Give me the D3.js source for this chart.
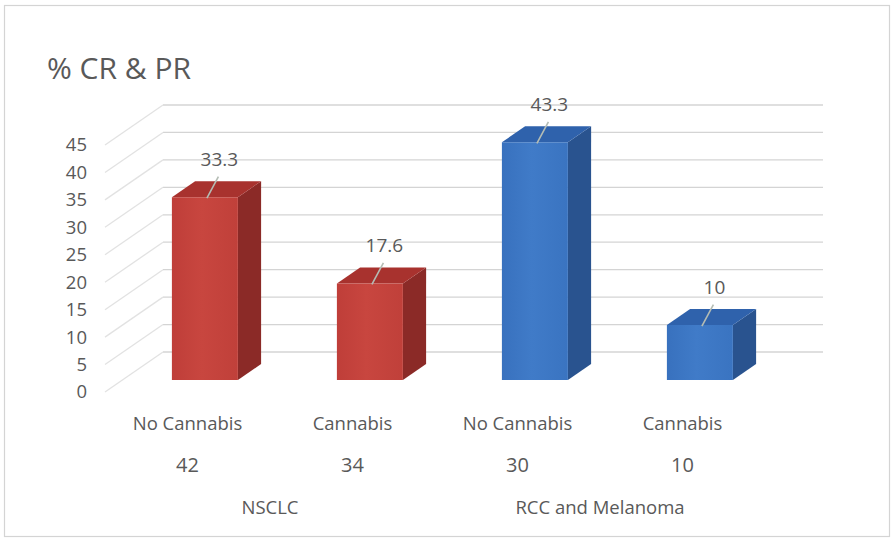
<!DOCTYPE html>
<html>
<head>
<meta charset="utf-8">
<script src="https://cdn.jsdelivr.net/npm/d3@7"></script>
<style>
  html, body { margin: 0; padding: 0; background: #ffffff; }
  svg { display: block; }
  text { fill: #595959; font-family: "Open Sans", sans-serif; }
</style>
</head>
<body>
<svg id="chart" width="894" height="542"></svg>
<script>
// ---- data ----
const categories = ["No Cannabis", "Cannabis", "No Cannabis", "Cannabis"];
const patientCounts = ["42", "34", "30", "10"];
const groupNames = ["NSCLC", "RCC and Melanoma"];
const groupOfCategory = [0, 0, 1, 1];
const responseRates = [33.3, 17.6, 43.3, 10];
const yTicks = [0, 5, 10, 15, 20, 25, 30, 35, 40, 45];
const titleText = "% CR & PR";

// face shades per group: front, top, side
const groupShades = [
  { front: ["#bf3e39", "#c8463f", "#c0403a"], top: "#a8322e", side: "#8b2a27" },
  { front: ["#3871be", "#407bc8", "#3a74c1"], top: "#2f62ac", side: "#29538f" }
];

const svg = d3.select("#chart");

// outer frame
svg.append("rect")
  .attr("x", 4.5).attr("y", 5.5)
  .attr("width", 885).attr("height", 531)
  .attr("fill", "#ffffff")
  .attr("stroke", "#d4d4d4").attr("stroke-width", 1.2);

// ---- scales (front plane) ----
const x = d3.scaleBand()
  .domain(d3.range(categories.length))
  .range([105, 765])
  .paddingInner(0.6)
  .paddingOuter(0.3);
const y = d3.scaleLinear().domain([0, 45]).range([392, 145]);

// depth: 0 = front edge of floor, 1 = back wall
const depthX = d3.scaleLinear().domain([0, 1]).range([0, 58]);
const depthY = d3.scaleLinear().domain([0, 1]).range([0, -40]);
const proj = (px, v, z) => [px + depthX(z), y(v) + depthY(z)];
const barZ0 = 0.3, barZ1 = 0.7;

// gradients for front faces
const defs = svg.append("defs");
groupShades.forEach((g, i) => {
  const grad = defs.append("linearGradient")
    .attr("id", "front" + i)
    .attr("x1", "0%").attr("x2", "100%").attr("y1", "0%").attr("y2", "0%");
  grad.append("stop").attr("offset", "0%").attr("stop-color", g.front[0]);
  grad.append("stop").attr("offset", "45%").attr("stop-color", g.front[1]);
  grad.append("stop").attr("offset", "100%").attr("stop-color", g.front[2]);
});

// ---- walls ----
const [xMin, xMax] = x.range();

// back wall gridlines
svg.append("g").selectAll("line")
  .data(yTicks).join("line")
  .attr("x1", d => proj(xMin, d, 1)[0])
  .attr("y1", d => proj(xMin, d, 1)[1])
  .attr("x2", d => proj(xMax, d, 1)[0])
  .attr("y2", d => proj(xMax, d, 1)[1])
  .attr("stroke", "#d4d4d4").attr("stroke-width", 1.3);

// side wall receding lines
svg.append("g").selectAll("line")
  .data(yTicks).join("line")
  .attr("x1", d => proj(xMin, d, 0)[0])
  .attr("y1", d => proj(xMin, d, 0)[1])
  .attr("x2", d => proj(xMin, d, 1)[0])
  .attr("y2", d => proj(xMin, d, 1)[1])
  .attr("stroke", "#e2e2e2").attr("stroke-width", 1.3);

// ---- y axis labels ----
const yAxis = svg.append("g")
  .attr("transform", "translate(87,0)")
  .call(d3.axisLeft(y).tickValues(yTicks).tickSize(0).tickPadding(0).tickFormat(d3.format("d")));
yAxis.select(".domain").remove();
yAxis.selectAll("text")
  .attr("font-family", "'Open Sans', sans-serif")
  .attr("font-size", 18.5)
  .attr("fill", "#595959");

// ---- bars ----
const line = d3.line();
const bars = svg.append("g").selectAll("g")
  .data(responseRates.map((v, i) => ({ v, i, g: groupOfCategory[i] })))
  .join("g");

bars.append("path") // side face
  .attr("d", d => {
    const x1 = x(d.i) + x.bandwidth();
    return line([proj(x1, 0, barZ0), proj(x1, 0, barZ1), proj(x1, d.v, barZ1), proj(x1, d.v, barZ0)]) + "Z";
  })
  .attr("fill", d => groupShades[d.g].side);

bars.append("path") // top face
  .attr("d", d => {
    const x0 = x(d.i), x1 = x0 + x.bandwidth();
    return line([proj(x0, d.v, barZ0), proj(x1, d.v, barZ0), proj(x1, d.v, barZ1), proj(x0, d.v, barZ1)]) + "Z";
  })
  .attr("fill", d => groupShades[d.g].top);

bars.append("path") // front face
  .attr("d", d => {
    const x0 = x(d.i), x1 = x0 + x.bandwidth();
    return line([proj(x0, 0, barZ0), proj(x1, 0, barZ0), proj(x1, d.v, barZ0), proj(x0, d.v, barZ0)]) + "Z";
  })
  .attr("fill", d => "url(#front" + d.g + ")");

// ---- data labels with leader lines ----
const center = i => x(i) + x.bandwidth() / 2;
bars.append("line")
  .attr("x1", d => center(d.i) + depthX(0.55) - 1)
  .attr("y1", d => y(d.v) - 32.5)
  .attr("x2", d => proj(center(d.i), d.v, barZ0)[0] + 2)
  .attr("y2", d => proj(center(d.i), d.v, barZ0)[1] + 1)
  .attr("stroke", "#b4bcb4").attr("stroke-width", 1.6);

bars.append("text")
  .attr("x", d => center(d.i) + depthX(0.55))
  .attr("y", d => y(d.v) - 43)
  .attr("text-anchor", "middle")
  .attr("font-size", 19)
  .text(d => d.v);

// ---- category axis rows ----
const catAxis = svg.append("g")
  .attr("transform", "translate(0,408)")
  .call(d3.axisBottom(x).tickSize(0).tickPadding(0).tickFormat(i => categories[i]));
catAxis.select(".domain").remove();
catAxis.selectAll(".tick text")
  .attr("dy", "0")
  .attr("y", 22)
  .attr("font-family", "'Open Sans', sans-serif")
  .attr("font-size", 18.5)
  .attr("fill", "#595959");

const countAxis = svg.append("g")
  .attr("transform", "translate(0,450)")
  .call(d3.axisBottom(x).tickSize(0).tickPadding(0).tickFormat(i => patientCounts[i]));
countAxis.select(".domain").remove();
countAxis.selectAll(".tick text")
  .attr("dy", "0")
  .attr("y", 22)
  .attr("font-family", "'Liberation Sans', Arial, sans-serif")
  .attr("font-size", 20)
  .attr("fill", "#595959");

// group labels centred under their categories
svg.append("g").selectAll("text")
  .data(groupNames).join("text")
  .attr("x", (g, gi) => d3.mean(d3.range(categories.length).filter(i => groupOfCategory[i] === gi), center))
  .attr("y", 514)
  .attr("text-anchor", "middle")
  .attr("font-size", 18.5)
  .text(d => d);

// ---- title ----
svg.append("text")
  .attr("x", 47).attr("y", 79)
  .attr("font-size", 30)
  .text(titleText);
</script>
</body>
</html>
